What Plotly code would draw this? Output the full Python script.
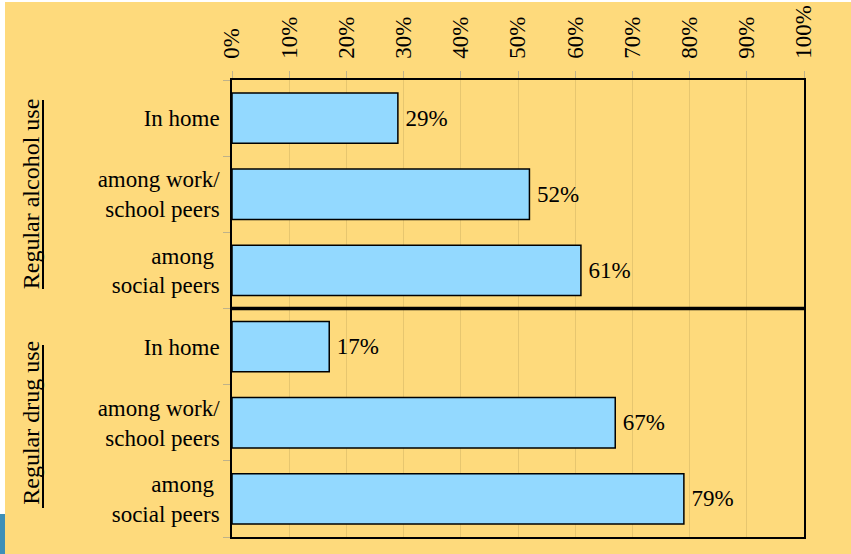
import plotly.graph_objects as go

# ---- data ----
categories = ["In home", "among work/<br>school peers", "among <br>social peers",
              "In home", "among work/<br>school peers", "among <br>social peers"]
values = [29, 52, 61, 17, 67, 79]
groups = ["Regular alcohol use", "Regular drug use"]
group_centers = [1, 4]
x_ticks = list(range(0, 101, 10))
x_ticklabels = [f"{v}%" for v in x_ticks]

FONT = "Liberation Serif"
BG = "#FEDA7C"
BAR = "#93D9FF"

W, H = 851, 554
L, R, T, B = 232, 47, 80, 17
pw, ph = W - L - R, H - T - B

def px_x(px):
    return (px - L) / pw

def px_y(py):
    return (H - B - py) / ph

ypos = list(range(len(categories)))

fig = go.Figure()
fig.add_trace(go.Bar(
    orientation="h",
    x=values,
    y=ypos,
    width=0.66,
    marker=dict(color=BAR, line=dict(color="black", width=1.5)),
    text=[f"\u2009{v}%" for v in values],
    textposition="outside",
    textfont=dict(family=FONT, size=23, color="black"),
    cliponaxis=False,
    hoverinfo="skip",
))

shapes = [
    # separator between groups
    dict(type="line", xref="paper", yref="y", x0=0, x1=1, y0=2.5, y1=2.5,
         line=dict(color="black", width=3.5)),
    # underlines of group labels
    dict(type="line", xref="paper", yref="paper", x0=px_x(43), x1=px_x(43),
         y0=px_y(100), y1=px_y(289), line=dict(color="black", width=2)),
    dict(type="line", xref="paper", yref="paper", x0=px_x(43), x1=px_x(43),
         y0=px_y(345), y1=px_y(508), line=dict(color="black", width=2)),
    # white edges
    dict(type="rect", xref="paper", yref="paper", x0=px_x(-2), x1=px_x(5),
         y0=px_y(560), y1=px_y(-5), fillcolor="white", line=dict(width=0), layer="above"),
    dict(type="rect", xref="paper", yref="paper", x0=px_x(-2), x1=px_x(860),
         y0=px_y(2), y1=px_y(-5), fillcolor="white", line=dict(width=0), layer="above"),
    # blue corner artifact
    dict(type="rect", xref="paper", yref="paper", x0=px_x(-2), x1=px_x(5),
         y0=px_y(560), y1=px_y(514), fillcolor="#3E8FB8", line=dict(width=0), layer="above"),
]

annotations = []
for g, c in zip(groups, group_centers):
    annotations.append(dict(
        text=g, xref="paper", yref="y", x=px_x(31), y=c, showarrow=False,
        textangle=-90, xanchor="center", yanchor="middle",
        font=dict(family=FONT, size=24, color="black"),
    ))

fig.update_layout(
    width=W, height=H, autosize=False,
    margin=dict(l=L, r=R, t=T, b=B, pad=0),
    paper_bgcolor=BG, plot_bgcolor=BG,
    showlegend=False,
    shapes=shapes,
    annotations=annotations,
    font=dict(family=FONT, size=23, color="black"),
    bargap=0.34,
)

fig.update_xaxes(
    automargin=False,
    range=[0, 100], side="top",
    tickmode="array", tickvals=x_ticks, ticktext=x_ticklabels,
    tickangle=-90, ticks="outside", ticklen=7, tickcolor="#BFB28A", tickwidth=1,
    ticklabelstandoff=8,
    showline=True, mirror=True, linecolor="black", linewidth=1.5,
    showgrid=True, gridcolor="rgba(190,160,90,0.35)", gridwidth=1,
    zeroline=False,
    tickfont=dict(family=FONT, size=23, color="black"),
)

fig.update_yaxes(
    automargin=False,
    range=[5.5, -0.5],
    tickmode="array", tickvals=ypos, ticktext=categories,
    ticks="outside", ticklen=6, tickcolor="rgba(0,0,0,0)",
    minor=dict(tickmode="array", tickvals=[i - 0.5 for i in range(len(categories) + 1)],
               ticks="outside", ticklen=7, tickcolor="#BFB28A", tickwidth=1, showgrid=False),
    showline=True, mirror=True, linecolor="black", linewidth=1.5,
    showgrid=False, zeroline=False,
    tickfont=dict(family=FONT, size=23, color="black"),
)

fig.write_html("out.html", config={"displayModeBar": False},
               post_script="document.body.style.margin='0';")
